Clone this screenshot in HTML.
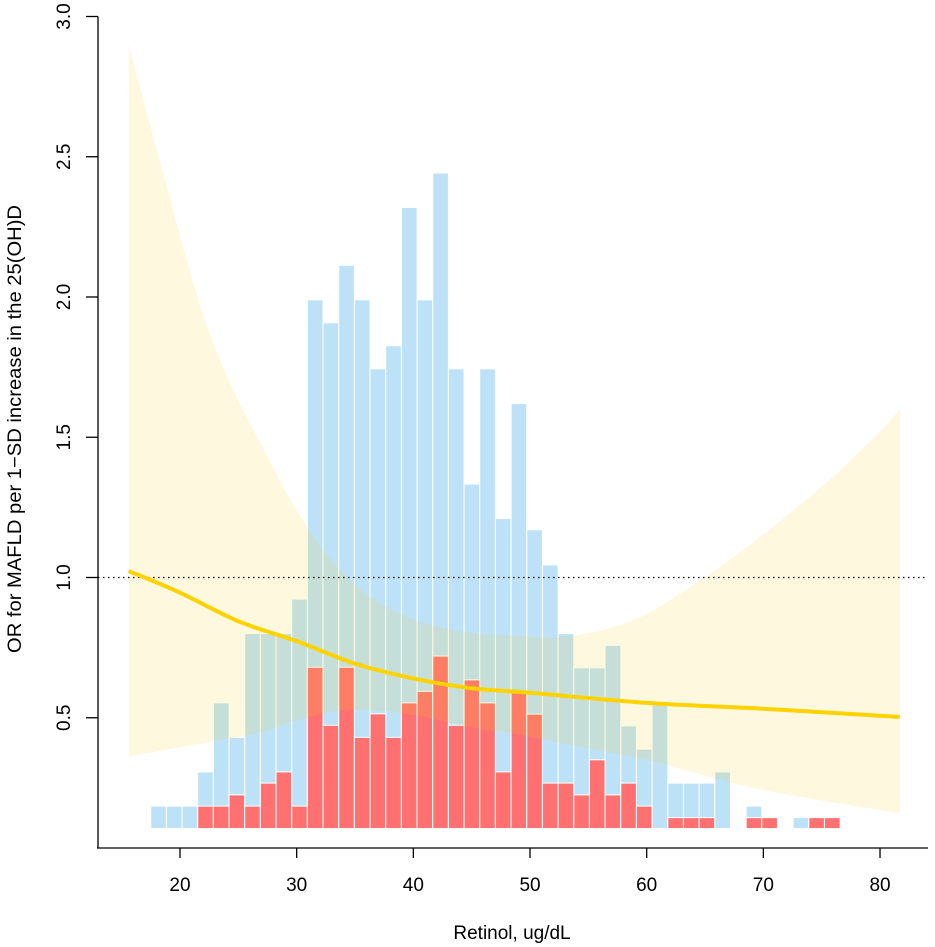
<!DOCTYPE html>
<html><head><meta charset="utf-8"><style>
html,body{margin:0;padding:0;background:#fff;}
svg{display:block;font-family:"Liberation Sans",Arial,sans-serif;}
</style></head><body>
<svg id="chart" width="935" height="947" viewBox="0 0 935 947" xmlns="http://www.w3.org/2000/svg">
<g id="bars"></g>
<g id="band"></g>
<g id="lines"></g>
<g id="axes"></g>
<text x="512" y="939" font-size="19" text-anchor="middle">Retinol, ug/dL</text>
<text transform="translate(21,429) rotate(-90)" font-size="19" text-anchor="middle" textLength="448" lengthAdjust="spacingAndGlyphs">OR for MAFLD per 1−SD increase in the 25(OH)D</text>
</svg>
<script>
// data
const blueTops = [0.185,0.185,0.185,0.307,0.553,0.43,0.80,0.80,0.80,0.923,1.99,1.908,2.113,1.99,1.744,1.826,2.319,1.99,2.442,1.744,1.333,1.744,1.21,1.62,1.17,1.045,0.80,0.678,0.678,0.758,0.471,0.388,0.55,0.267,0.267,0.267,0.307,0,0.185,0.144,0,0.144,0.144,0.144];
const redTops = [0,0,0,0.185,0.185,0.225,0.185,0.267,0.307,0.185,0.68,0.473,0.68,0.43,0.514,0.43,0.553,0.594,0.72,0.473,0.635,0.553,0.307,0.594,0.513,0.267,0.267,0.225,0.35,0.225,0.267,0.185,0,0.144,0.144,0.144,0,0,0.144,0.144,0,0,0.144,0.144];
const binStart = 17.49, binWidth = 1.343, baseVal = 0.105;
const curveX = [15.6,20,25,30,35,40,45,50,60,70,80,81.7];
const curveY = [1.023,0.946,0.844,0.773,0.693,0.64,0.605,0.589,0.553,0.532,0.507,0.503];
const upperX = [15.6,18.5,21.5,24,27,30,33,36,40,44.5,48.6,52,56,60,64.6,68,72,76,80,81.7];
const upperY = [2.90,2.45,2.0,1.72,1.47,1.24,1.06,0.94,0.85,0.805,0.793,0.786,0.81,0.87,0.99,1.09,1.22,1.36,1.52,1.6];
const lowerX = [15.6,20,26.6,30,33.5,37,40.8,45.7,48.3,55,60,68.6,75,81.7];
const lowerY = [0.362,0.395,0.445,0.49,0.525,0.525,0.504,0.46,0.446,0.39,0.35,0.255,0.205,0.16];
const xTicks = [20,30,40,50,60,70,80];
const yTicks = [0.5,1.0,1.5,2.0,2.5,3.0];
const yTickLabels = ["0.5","1.0","1.5","2.0","2.5","3.0"];

const X = v => 180 + (v-20)*11.667;
const Y = v => 297 - (v-2)*280.5;
const NS = "http://www.w3.org/2000/svg";
function mk(tag, parent, attrs){const e=document.createElementNS(NS,tag);for(const k in attrs)e.setAttribute(k,attrs[k]);parent.appendChild(e);return e;}
function smooth(pts, start){
  let d = start ? 'M'+pts[0][0]+','+pts[0][1] : 'L'+pts[0][0]+','+pts[0][1];
  for(let i=0;i<pts.length-1;i++){
    const p0=pts[Math.max(i-1,0)],p1=pts[i],p2=pts[i+1],p3=pts[Math.min(i+2,pts.length-1)];
    const c1=[p1[0]+(p2[0]-p0[0])/6,p1[1]+(p2[1]-p0[1])/6];
    const c2=[p2[0]-(p3[0]-p1[0])/6,p2[1]-(p3[1]-p1[1])/6];
    d+=' C'+c1[0]+','+c1[1]+' '+c2[0]+','+c2[1]+' '+p2[0]+','+p2[1];
  }
  return d;
}

const gb=document.getElementById('bars');
blueTops.forEach((v,i)=>{
  const x0=X(binStart+i*binWidth), x1=X(binStart+(i+1)*binWidth);
  if(v>0){
    const r=mk('rect',gb,{x:x0,y:Y(v),width:x1-x0,height:Y(baseVal)-Y(v),fill:'#bde2f7',stroke:'#fff','stroke-width':1});
    
    
  }
  const rv=redTops[i];
  if(rv>0){
    const r=mk('rect',gb,{x:x0,y:Y(rv),width:x1-x0,height:Y(baseVal)-Y(rv),fill:'#ff7171',stroke:'#fff','stroke-width':1});
    
    
  }
});

const gband=document.getElementById('band');
const up=upperX.map((x,i)=>[X(x),Y(upperY[i])]);
const lo=lowerX.map((x,i)=>[X(x),Y(lowerY[i])]).reverse();
const d=smooth(up,true)+' '+smooth(lo,false)+' Z';
const band=mk('path',gband,{d:d,fill:'rgba(248,204,27,0.14)'});



const gl=document.getElementById('lines');
const ref=mk('line',gl,{x1:98,x2:928,y1:Y(1),y2:Y(1),stroke:'#000','stroke-width':1.2,'stroke-dasharray':'1.5 3.5'});


const cl=mk('path',gl,{d:smooth(curveX.map((x,i)=>[X(x),Y(curveY[i])]),true),fill:'none',stroke:'#ffd200','stroke-width':4,'stroke-linejoin':'round'});



const ga=document.getElementById('axes');
const ya=mk('line',ga,{x1:98,x2:98,y1:Y(3),y2:848,stroke:'#000','stroke-width':1.3});


const xa=mk('line',ga,{x1:97,x2:928,y1:848,y2:848,stroke:'#000','stroke-width':1.3});


yTicks.forEach((v,i)=>{
  mk('line',ga,{x1:86,x2:98,y1:Y(v),y2:Y(v),stroke:'#000','stroke-width':1.3});
  const t=mk('text',ga,{transform:`translate(70,${Y(v)}) rotate(-90)`,'font-size':19,'text-anchor':'middle'});
  t.textContent=yTickLabels[i];
  
  
});
xTicks.forEach(v=>{
  mk('line',ga,{x1:X(v),x2:X(v),y1:848,y2:858,stroke:'#000','stroke-width':1.3});
  const t=mk('text',ga,{x:X(v),y:891,'font-size':19,'text-anchor':'middle'});
  t.textContent=String(v);
  
  
});
</script>
</body></html>
